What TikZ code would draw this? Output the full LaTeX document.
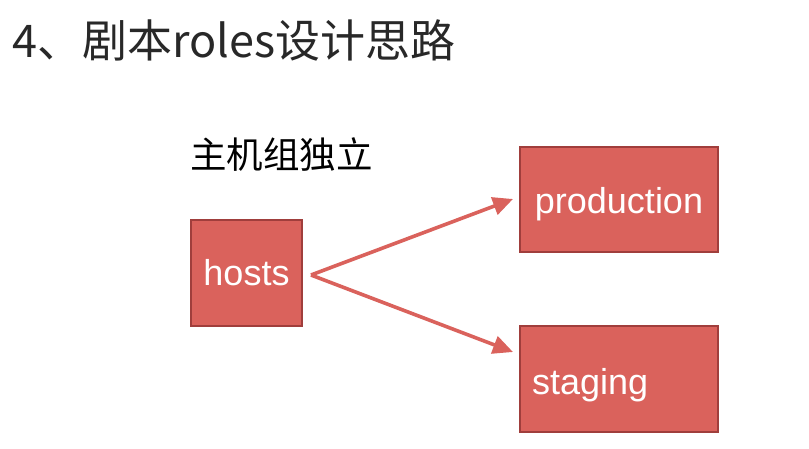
\documentclass[tikz,border=0pt]{standalone}
\usepackage{fontspec}
\setmainfont{Liberation Sans}
\newfontfamily\cjk{Noto Sans CJK SC}
\usetikzlibrary{arrows.meta}
\definecolor{boxfill}{RGB}{218,98,92}
\definecolor{boxline}{RGB}{160,62,60}
\definecolor{titlecol}{RGB}{40,40,40}
\tikzset{
  rolebox/.style={draw=boxline, line width=2.2pt, fill=boxfill, inner sep=0pt, text=white, font=\fontsize{36}{40}\selectfont},
  arr/.style={draw=boxfill, line width=3.6pt, -{Triangle[length=20pt,width=18pt]}},
}
\begin{document}
\begin{tikzpicture}[x=1pt,y=-1pt]
\useasboundingbox (0,0) rectangle (809,448);
\fill[white] (0,0) rectangle (809,448);
\node[anchor=base west, text=titlecol, inner sep=0pt, font=\cjk\fontsize{45}{50}\selectfont] (title) at (12,57) {4、剧本roles设计思路};
\node[anchor=base west, text=black, inner sep=0pt, font=\cjk\fontsize{36.5}{40}\selectfont] (sub) at (190,168) {主机组独立};
\node[rolebox, minimum width=111pt, minimum height=106pt] (hosts) at (246.5,273) {hosts};
\node[rolebox, minimum width=198pt, minimum height=105pt] (prod) at (619,199.5) {\raisebox{-5pt}[\height][\depth]{production}};
\node[rolebox, minimum width=198pt, minimum height=106pt, text width=174pt, align=left] (stag) at (619,379) {\raisebox{-6pt}[\height][\depth]{staging}};
\coordinate (fork) at (311,275);
\coordinate (ptip) at (513,199);
\coordinate (stip) at (513,352);
\draw[arr] (fork) -- (ptip);
\draw[arr] (fork) -- (stip);
\end{tikzpicture}
\end{document}
